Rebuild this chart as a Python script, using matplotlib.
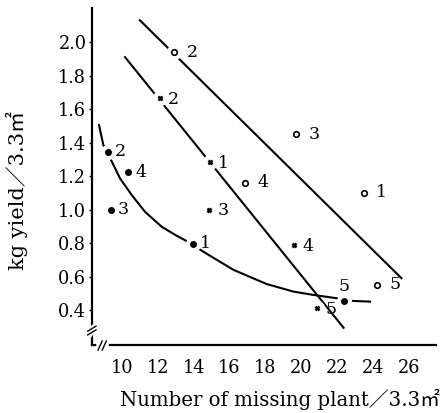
import numpy as np
import matplotlib
matplotlib.use("Agg")
import matplotlib.pyplot as plt

plt.rcParams['font.family'] = ['DejaVu Serif', 'Noto Sans CJK JP']

# hollow circles (upper regression line)
open_x = [23.5, 12.9, 19.7, 16.85, 24.25]
open_y = [1.10, 1.94, 1.45, 1.16, 0.55]
open_lab = ['1', '2', '3', '4', '5']

# crosses (middle regression line)
cross_x = [14.9, 12.12, 14.88, 19.62, 20.88]
cross_y = [1.285, 1.664, 1.00, 0.79, 0.41]
cross_lab = ['1', '2', '3', '4', '5']

# filled circles (curve)
dot_x = [13.98, 9.23, 9.36, 10.35, 22.37]
dot_y = [0.796, 1.345, 1.00, 1.222, 0.456]
dot_lab = ['1', '2', '3', '4', '5']

# fitted lines
lineA_x = [11.0, 25.6]
lineA_y = [2.13, 0.59]
lineB_x = [10.17, 22.37]
lineB_y = [1.91, 0.294]
curve_x = [8.72, 8.96, 9.23, 9.39, 9.89, 10.54, 11.28, 12.22, 13.14, 13.61,
           13.98, 14.45, 16.22, 18.08, 19.57, 20.69, 22.0, 22.74, 23.85]
curve_y = [1.504, 1.385, 1.34, 1.296, 1.186, 1.087, 0.987, 0.897, 0.838, 0.812,
           0.79, 0.754, 0.64, 0.555, 0.51, 0.49, 0.47, 0.455, 0.45]

xticks = [10, 12, 14, 16, 18, 20, 22, 24, 26]
yticks = [0.4, 0.6, 0.8, 1.0, 1.2, 1.4, 1.6, 1.8, 2.0]

fig = plt.figure(figsize=(4.46, 4.13), dpi=100)
ax = fig.add_axes([0.206, 0.1646, 0.772, 0.816])

lw = 1.5
ax.plot(lineA_x, lineA_y, color='black', lw=lw, zorder=2)
ax.plot(lineB_x, lineB_y, color='black', lw=lw, zorder=2)
ax.plot(curve_x, curve_y, color='black', lw=lw, zorder=2)

# white halos so the lines break around the points
allx = open_x + cross_x + dot_x
ally = open_y + cross_y + dot_y
ax.plot(allx, ally, 'o', color='white', ms=11, mec='none', zorder=3)

ax.plot(open_x, open_y, 'o', mfc='white', mec='black', mew=1.2, ms=4, ls='none', zorder=4)
ax.plot(cross_x, cross_y, 'x', color='black', mew=1.8, ms=3.2, ls='none', zorder=4)
ax.plot(dot_x, dot_y, 'o', color='black', ms=4, ls='none', zorder=4)

fs = 12.5
for x, y, t in zip(open_x, open_y, open_lab):
    ax.annotate(t, (x, y), xytext=(13, 0), textcoords='offset points',
                ha='center', va='center', fontsize=fs)
for x, y, t in zip(cross_x, cross_y, cross_lab):
    ax.annotate(t, (x, y), xytext=(10, -1), textcoords='offset points',
                ha='center', va='center', fontsize=fs)
for x, y, t in zip(dot_x, dot_y, dot_lab):
    off = (0, 10) if t == '5' else (9, 0)
    ax.annotate(t, (x, y), xytext=off, textcoords='offset points',
                ha='center', va='center', fontsize=fs)

ax.set_xlim(8.32, 27.54)
ax.set_ylim(0.191, 2.203)
ax.set_xticks(xticks)
ax.set_yticks(yticks)
ax.set_yticklabels(['%.1f' % v for v in yticks])
ax.tick_params(axis='y', length=2, width=1, pad=2, labelsize=12.8)
ax.tick_params(axis='x', length=0, pad=10, labelsize=12.8)
for s in ['top', 'right']:
    ax.spines[s].set_visible(False)
for s in ['left', 'bottom']:
    ax.spines[s].set_linewidth(1.6)

# axis break marks
tr = ax.transAxes
ax.plot([-0.004, 0.004], [0.035, 0.05], color='white', lw=4, transform=tr, clip_on=False, zorder=5)
ax.plot([-0.012, 0.012], [0.03, 0.045], color='black', lw=1, transform=tr, clip_on=False, zorder=6)
ax.plot([-0.012, 0.012], [0.041, 0.056], color='black', lw=1, transform=tr, clip_on=False, zorder=6)
ax.plot([0.022, 0.04], [0.0, 0.0], color='white', lw=4, transform=tr, clip_on=False, zorder=5)
ax.plot([0.018, 0.03], [-0.015, 0.012], color='black', lw=1, transform=tr, clip_on=False, zorder=6)
ax.plot([0.03, 0.042], [-0.015, 0.012], color='black', lw=1, transform=tr, clip_on=False, zorder=6)

fig.text(120 / 446, 1 - 399 / 413, 'Number of missing plant／3.3㎡',
         ha='left', va='center', fontsize=14.2)
fig.text(17 / 446, 1 - 190 / 413, 'kg yield／3.3㎡', rotation=90,
         ha='center', va='center', fontsize=15)

fig.savefig('out.png', dpi=100)
